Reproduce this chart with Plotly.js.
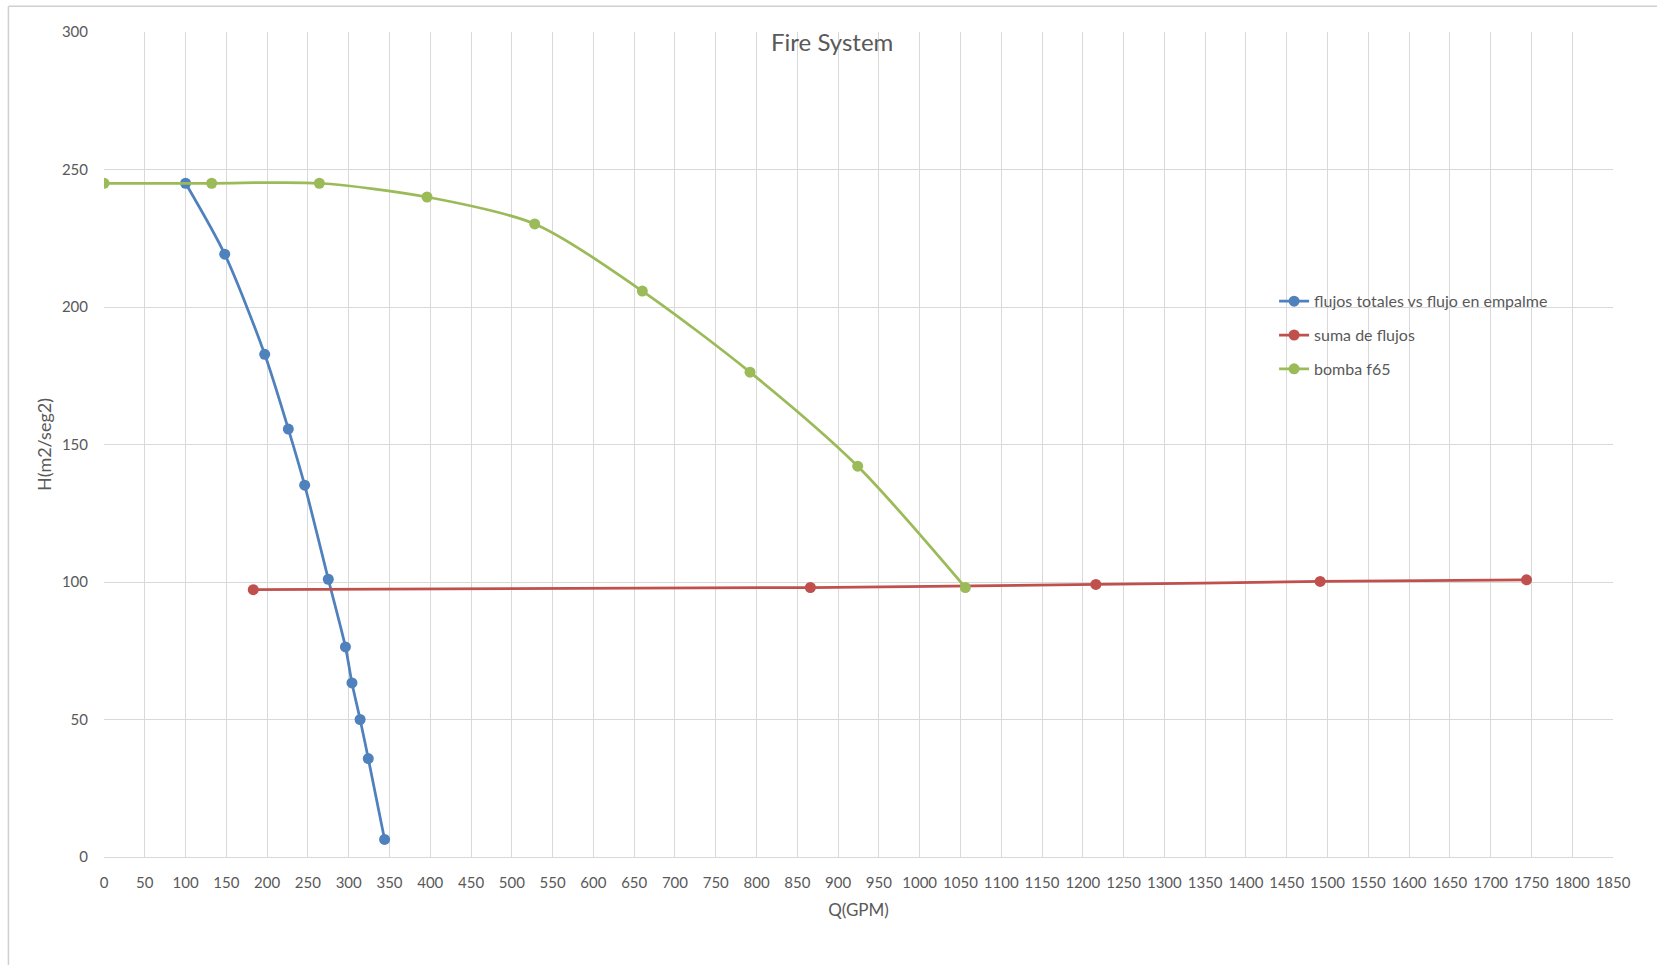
<!DOCTYPE html>
<html>
<head>
<meta charset="utf-8">
<script src="https://cdn.plot.ly/plotly-3.0.1.min.js"></script>
<style>html,body{margin:0;padding:0;background:#fff;}#chart{width:1657px;height:965px;}</style>
</head>
<body>
<div id="chart"></div>
<script>
// Data
const blueName = "flujos totales vs flujo en empalme";
const blueX = [100, 148, 197, 226, 246, 275, 296, 304, 314, 324, 344];
const blueY = [245, 219.2, 182.8, 155.6, 135.2, 101, 76.4, 63.3, 50, 35.8, 6.4];

const redName = "suma de flujos";
const redX = [183, 866, 1216, 1491, 1744];
const redY = [97.2, 98, 99.1, 100.2, 100.8];

const greenName = "bomba f65";
const greenX = [0, 132, 264, 396, 528, 660, 792, 924, 1056];
const greenY = [245, 245, 245, 240, 230.2, 205.8, 176.3, 142.1, 98];

const chartTitle = "Fire System";
const xTitle = "Q(GPM)";
const yTitle = "H(m2/seg2)";

const FONT = "Lato, 'Open Sans', sans-serif";
const GRAY = "#595959";

function tr(name, x, y, color, group) {
  return {
    type: "scatter", mode: "lines+markers", name: name, x: x, y: y,
    legendgroup: group,
    line: {color: color, width: 2.75, shape: "spline", smoothing: 0.8},
    marker: {color: color, size: 11}
  };
}

const data = [
  tr(blueName, blueX, blueY, "#4F81BD", "a"),
  tr(redName, redX, redY, "#C0504D", "b"),
  tr(greenName, greenX, greenY, "#9BBB59", "c")
];

const L = 103.6, R = 44, T = 31.7, B = 108.3;
const W = 1657 - L - R, H = 965 - T - B;
const px = v => (v - L) / W;
const py = v => (965 - B - v) / H;

const layout = {
  width: 1657, height: 965,
  margin: {l: L, r: R, t: T, b: B, pad: 0},
  paper_bgcolor: "#ffffff", plot_bgcolor: "#ffffff",
  font: {family: FONT, color: GRAY, size: 14},
  title: {text: chartTitle, font: {family: FONT, size: 24, color: GRAY},
          xref: "paper", yref: "paper", x: px(832), y: py(42), xanchor: "center", yanchor: "middle"},
  showlegend: true,
  legend: {x: px(1274), y: py(284), xanchor: "left", yanchor: "top",
           font: {family: FONT, size: 16, color: GRAY}, tracegroupgap: 10,
           bgcolor: "rgba(0,0,0,0)", itemwidth: 30},
  xaxis: {
    range: [0, 1850], tick0: 0, dtick: 50, tickmode: "linear",
    showgrid: true, gridcolor: "#d9d9d9", gridwidth: 1,
    zeroline: false, showline: true, linecolor: "#d9d9d9", linewidth: 1,
    ticks: "outside", ticklen: 12, tickcolor: "rgba(0,0,0,0)",
    tickfont: {family: FONT, size: 15, color: GRAY}, tickangle: 0,
    title: {text: xTitle, font: {family: FONT, size: 17, color: GRAY}, standoff: 14}
  },
  yaxis: {
    range: [0, 300], tick0: 0, dtick: 50, tickmode: "linear",
    showgrid: true, gridcolor: "#d9d9d9", gridwidth: 1,
    zeroline: false, showline: false,
    ticks: "outside", ticklen: 12, tickcolor: "rgba(0,0,0,0)",
    tickfont: {family: FONT, size: 15, color: GRAY},
    title: {text: yTitle, font: {family: FONT, size: 18, color: GRAY}, standoff: 5}
  },
  shapes: [
    {type: "line", xref: "paper", yref: "paper",
     x0: px(8), x1: px(1657), y0: py(6), y1: py(6),
     line: {color: "#d0d0d0", width: 1.5}, layer: "below"},
    {type: "line", xref: "paper", yref: "paper",
     x0: px(8), x1: px(8), y0: py(6), y1: py(965),
     line: {color: "#d0d0d0", width: 1.5}, layer: "below"}
  ]
};

Plotly.newPlot("chart", data, layout, {displayModeBar: false, staticPlot: true});
</script>
</body>
</html>
